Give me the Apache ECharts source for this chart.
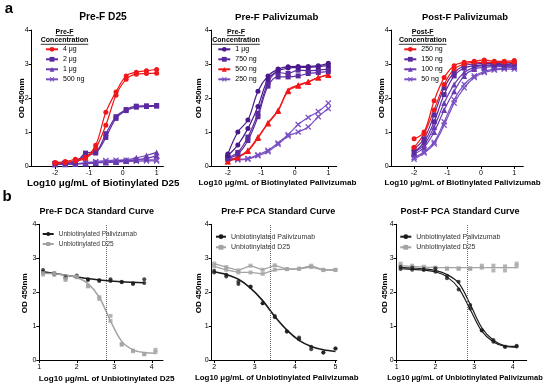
<!DOCTYPE html>
<html><head><meta charset="utf-8">
<script src="https://cdn.jsdelivr.net/npm/echarts@6/dist/echarts.min.js"></script>
<style>html,body{margin:0;padding:0;background:#fff}#c{width:550px;height:385px}</style>
</head><body><div id="c"></div>
<script>
// ---------- DATA ----------
// Panel a: log10 ug/mL of biotinylated antibody
const xA = [-2.0,-1.7,-1.4,-1.1,-0.8,-0.5,-0.2,0.1,0.4,0.7,1.0];
// Pre-F D25
const p1_4ug_a  = [0.10,0.13,0.20,0.26,0.61,1.58,2.18,2.65,2.76,2.80,2.84];
const p1_4ug_b  = [0.08,0.10,0.15,0.22,0.52,1.20,2.08,2.55,2.70,2.72,2.73];
const p1_2ug_a  = [0.08,0.10,0.12,0.38,0.42,0.95,1.45,1.66,1.76,1.77,1.78];
const p1_2ug_b  = [0.07,0.09,0.10,0.32,0.38,0.84,1.40,1.63,1.73,1.75,1.76];
const p1_1ug_a  = [0.06,0.06,0.07,0.08,0.10,0.12,0.15,0.18,0.24,0.31,0.40];
const p1_1ug_b  = [0.05,0.05,0.06,0.07,0.09,0.10,0.12,0.15,0.18,0.23,0.30];
const p1_500_a  = [0.05,0.06,0.07,0.10,0.13,0.16,0.17,0.17,0.18,0.18,0.18];
const p1_500_b  = [0.04,0.05,0.06,0.08,0.10,0.12,0.12,0.13,0.14,0.15,0.15];
// Pre-F Palivizumab
const p2_1ug_a  = [0.35,1.00,1.35,2.20,2.65,2.85,2.92,2.93,2.93,2.95,3.02];
const p2_1ug_b  = [0.30,0.62,1.10,1.75,2.55,2.80,2.88,2.90,2.90,2.92,2.95];
const p2_750_a  = [0.25,0.40,0.85,1.55,2.45,2.75,2.72,2.82,2.80,2.82,2.85];
const p2_750_b  = [0.22,0.35,0.75,1.45,2.35,2.62,2.62,2.65,2.72,2.75,2.78];
const p2_500_a  = [0.14,0.27,0.46,0.85,1.27,1.64,2.23,2.38,2.48,2.60,2.70];
const p2_500_b  = [0.13,0.25,0.44,0.82,1.25,1.62,2.20,2.36,2.47,2.60,2.68];
const p2_250_a  = [0.25,0.20,0.22,0.33,0.46,0.68,0.92,1.22,1.43,1.60,1.85];
const p2_250_b  = [0.20,0.18,0.20,0.30,0.42,0.64,0.88,1.00,1.15,1.45,1.69];
// Post-F Palivizumab
const p3_250_a  = [0.80,1.00,1.92,2.60,2.95,3.05,3.08,3.12,3.08,3.08,3.10];
const p3_250_b  = [0.55,0.95,1.65,2.40,2.85,3.00,3.05,3.05,3.05,3.05,3.05];
const p3_150_a  = [0.50,0.80,1.50,2.30,2.75,2.95,3.00,3.02,3.02,3.00,3.02];
const p3_150_b  = [0.40,0.70,1.30,2.10,2.65,2.88,2.95,2.97,2.98,2.98,3.00];
const p3_100_a  = [0.40,0.62,1.15,1.85,2.40,2.75,2.90,2.95,2.95,2.95,2.95];
const p3_100_b  = [0.35,0.55,1.00,1.65,2.20,2.65,2.85,2.90,2.92,2.92,2.92];
const p3_50_a   = [0.25,0.42,0.70,1.30,1.95,2.40,2.65,2.78,2.85,2.88,2.90];
const p3_50_b   = [0.20,0.38,0.65,1.20,1.85,2.30,2.60,2.75,2.82,2.85,2.85];

// Panel b: log10 ug/mL of unbiotinylated antibody
const xDCA     = [1.1,1.4,1.7,2.0,2.3,2.6,2.9,3.2,3.5,3.8,4.1];
const xDCApal  = [1.1,1.4,1.7,2.0,2.3,2.6,2.9,3.2,3.5,3.8];
const xPCA     = [2.0,2.3,2.6,2.9,3.2,3.5,3.8,4.1,4.4,4.7,5.0];
// Pre-F DCA
const p4_pal_fit   = [2.60,2.55,2.50,2.45,2.40,2.36,2.33,2.31,2.29,2.28];
const p4_pal_pts_a = [2.65,2.56,2.44,2.49,2.38,2.36,2.38,2.31,2.24,2.38];
const p4_pal_pts_b = [2.60,2.52,2.42,2.45,2.36,2.33,2.33,2.29,2.26,2.27];
const p4_d25_fit   = [2.56,2.54,2.50,2.43,2.25,1.85,1.15,0.55,0.30,0.22,0.20];
const p4_d25_pts_a = [2.56,2.56,2.36,2.46,2.19,1.85,1.15,0.47,0.28,0.17,0.30];
const p4_d25_pts_b = [2.52,2.52,2.40,2.44,2.17,1.80,1.30,0.45,0.26,0.18,0.23];
// Pre-F PCA
const p5_pal_fit   = [2.60,2.52,2.38,2.12,1.75,1.28,0.88,0.58,0.40,0.30,0.25];
const p5_pal_pts_a = [2.63,2.51,2.31,2.17,1.67,1.30,0.84,0.66,0.39,0.22,0.34];
const p5_pal_pts_b = [2.58,2.46,2.24,2.15,1.67,1.26,0.84,0.61,0.32,0.22,0.34];
const p5_d25_a     = [2.84,2.74,2.64,2.78,2.66,2.79,2.68,2.69,2.78,2.66,2.66];
const p5_d25_b     = [2.76,2.66,2.58,2.58,2.54,2.66,2.68,2.69,2.74,2.65,2.65];
// Post-F PCA
const p6_pal_fit_a = [2.73,2.71,2.69,2.64,2.52,2.27,1.64,0.95,0.58,0.42,0.40];
const p6_pal_fit_b = [2.69,2.67,2.65,2.60,2.45,2.12,1.49,0.85,0.53,0.40,0.38];
const p6_pal_pts_a = [2.74,2.72,2.68,2.70,2.48,2.31,1.62,0.88,0.59,0.39,0.42];
const p6_pal_pts_b = [2.68,2.66,2.65,2.60,2.41,2.08,1.52,0.87,0.54,0.39,0.40];
const p6_d25_fit   = [2.78,2.76,2.74,2.73,2.72,2.72,2.72,2.72,2.72,2.72,2.72];
const p6_d25_pts_a = [2.84,2.78,2.75,2.72,2.70,2.70,2.70,2.78,2.78,2.76,2.84];
const p6_d25_pts_b = [2.78,2.74,2.72,2.70,2.69,2.69,2.69,2.72,2.64,2.64,2.76];

// reference (midpoint) lines
const refLines = [2.78, 3.38, 2.83];

// tick labels
const xTicksA   = [-2,-1,0,1];
const xTicksDCA = [1,2,3,4];
const xTicksPCA = [2,3,4,5];
const yTicks    = [0,1,2,3,4];

// ---------- STYLE ----------
const FF = '"Liberation Sans", Arial, Helvetica, sans-serif';
const RED = '#f01818', PD = '#4a1a8c', PM = '#5b2a9e', PL = '#6a3cb2', PX = '#7a50c2';
const BLK = '#1c1c1c', GRY = '#a4a4a4';
const SYM_X = 'path://M0,1.5L1.5,0L5,3.5L8.5,0L10,1.5L6.5,5L10,8.5L8.5,10L5,6.5L1.5,10L0,8.5L3.5,5Z';

const grids = [
  {left:31.7, top:30, width:131.7, height:136, min:-2.69, max:1.2, ticks:xTicksA},
  {left:211.7, top:30, width:125, height:136, min:-2.48, max:1.25, ticks:xTicksA},
  {left:391.7, top:30, width:131.6, height:136, min:-2.67, max:1.27, ticks:xTicksA},
  {left:39.3, top:224.3, width:123.7, height:135.7, min:1, max:4.3, ticks:xTicksDCA},
  {left:211.7, top:224.3, width:125, height:135.7, min:1.94, max:5.03, ticks:xTicksPCA},
  {left:396.7, top:224.3, width:130, height:135.7, min:1, max:4.36, ticks:xTicksDCA}
];

const pairs = (xs, ys) => ys.map((y, i) => [xs[i], y]);

function rep(gi, name, xs, ys, color, symbol, size) {
  return {type:'line', name, xAxisIndex:gi, yAxisIndex:gi, data:pairs(xs, ys),
    smooth:0.35, symbol, symbolSize:size, showSymbol:true,
    lineStyle:{color, width:1.2}, itemStyle:{color, borderWidth:0}, z:2};
}
function fitLine(gi, name, xs, ys, color, symbol, size, width, smooth) {
  return {type:'line', name, xAxisIndex:gi, yAxisIndex:gi, data:pairs(xs, ys),
    smooth:smooth === undefined ? 0.35 : smooth, symbol, symbolSize:size, showSymbol:false,
    lineStyle:{color, width:width}, itemStyle:{color}, z:2};
}
function pts(gi, name, xs, ys, color, symbol, size) {
  return {type:'scatter', name, xAxisIndex:gi, yAxisIndex:gi, data:pairs(xs, ys),
    symbol, symbolSize:size, itemStyle:{color}, z:3};
}
function refLine(value) {
  return {silent:true, symbol:'none', label:{show:false},
    lineStyle:{type:'dotted', color:'#6a6a6a', width:1}, data:[{xAxis:value}]};
}

const series = [
  // panel 1
  rep(0,'500 ng|1', xA, p1_500_a, PX, SYM_X, 6), rep(0,'500 ng|1', xA, p1_500_b, PX, SYM_X, 6),
  rep(0,'1 μg|1', xA, p1_1ug_a, PL, 'triangle', 6), rep(0,'1 μg|1', xA, p1_1ug_b, PL, 'triangle', 6),
  rep(0,'2 μg|1', xA, p1_2ug_a, PM, 'rect', 5), rep(0,'2 μg|1', xA, p1_2ug_b, PM, 'rect', 5),
  rep(0,'4 μg|1', xA, p1_4ug_a, RED, 'circle', 5), rep(0,'4 μg|1', xA, p1_4ug_b, RED, 'circle', 5),
  // panel 2
  rep(1,'250 ng|2', xA, p2_250_a, PX, SYM_X, 6), rep(1,'250 ng|2', xA, p2_250_b, PX, SYM_X, 6),
  rep(1,'500 ng|2', xA, p2_500_a, RED, 'triangle', 6), rep(1,'500 ng|2', xA, p2_500_b, RED, 'triangle', 6),
  rep(1,'750 ng|2', xA, p2_750_a, PM, 'rect', 5), rep(1,'750 ng|2', xA, p2_750_b, PM, 'rect', 5),
  rep(1,'1 μg|2', xA, p2_1ug_a, PD, 'circle', 5), rep(1,'1 μg|2', xA, p2_1ug_b, PD, 'circle', 5),
  // panel 3
  rep(2,'50 ng|3', xA, p3_50_a, PX, SYM_X, 6), rep(2,'50 ng|3', xA, p3_50_b, PX, SYM_X, 6),
  rep(2,'100 ng|3', xA, p3_100_a, PL, 'triangle', 6), rep(2,'100 ng|3', xA, p3_100_b, PL, 'triangle', 6),
  rep(2,'150 ng|3', xA, p3_150_a, PM, 'rect', 5), rep(2,'150 ng|3', xA, p3_150_b, PM, 'rect', 5),
  rep(2,'250 ng|3', xA, p3_250_a, RED, 'circle', 5), rep(2,'250 ng|3', xA, p3_250_b, RED, 'circle', 5),
  // panel 4
  Object.assign(fitLine(3,'Unbiotinylated Palivizumab|4', xDCApal, p4_pal_fit, BLK, 'circle', 4, 1.5), {markLine:refLine(refLines[0])}),
  fitLine(3,'Unbiotinylated D25|4', xDCA, p4_d25_fit, GRY, 'rect', 4, 1.5),
  pts(3,'Unbiotinylated Palivizumab|4', xDCApal, p4_pal_pts_a, BLK, 'circle', 4),
  pts(3,'Unbiotinylated Palivizumab|4', xDCApal, p4_pal_pts_b, BLK, 'circle', 4),
  pts(3,'Unbiotinylated D25|4', xDCA, p4_d25_pts_a, GRY, 'rect', 4),
  pts(3,'Unbiotinylated D25|4', xDCA, p4_d25_pts_b, GRY, 'rect', 4),
  // panel 5
  Object.assign(fitLine(4,'Unbiotinylated Palivizumab|5', xPCA, p5_pal_fit, BLK, 'circle', 4, 1.6), {markLine:refLine(refLines[1])}),
  fitLine(4,'Unbiotinylated D25|5', xPCA, p5_d25_a, GRY, 'rect', 4, 1.3, false),
  fitLine(4,'Unbiotinylated D25|5', xPCA, p5_d25_b, GRY, 'rect', 4, 1.3, false),
  pts(4,'Unbiotinylated D25|5', xPCA, p5_d25_a, GRY, 'rect', 4),
  pts(4,'Unbiotinylated D25|5', xPCA, p5_d25_b, GRY, 'rect', 4),
  pts(4,'Unbiotinylated Palivizumab|5', xPCA, p5_pal_pts_a, BLK, 'circle', 4),
  pts(4,'Unbiotinylated Palivizumab|5', xPCA, p5_pal_pts_b, BLK, 'circle', 4),
  // panel 6
  Object.assign(fitLine(5,'Unbiotinylated Palivizumab|6', xDCA, p6_pal_fit_a, BLK, 'circle', 4, 1.2), {markLine:refLine(refLines[2])}),
  fitLine(5,'Unbiotinylated Palivizumab|6', xDCA, p6_pal_fit_b, BLK, 'circle', 4, 1.2),
  fitLine(5,'Unbiotinylated D25|6', xDCA, p6_d25_fit, GRY, 'rect', 4, 1.3),
  pts(5,'Unbiotinylated D25|6', xDCA, p6_d25_pts_a, GRY, 'rect', 4),
  pts(5,'Unbiotinylated D25|6', xDCA, p6_d25_pts_b, GRY, 'rect', 4),
  pts(5,'Unbiotinylated Palivizumab|6', xDCA, p6_pal_pts_a, BLK, 'circle', 4),
  pts(5,'Unbiotinylated Palivizumab|6', xDCA, p6_pal_pts_b, BLK, 'circle', 4)
];

const stripName = n => n.split('|')[0];
function legend(left, top, names, opts) {
  return Object.assign({left, top, orient:'vertical', padding:0, selectedMode:false,
    itemWidth:12, itemHeight:6, itemGap:2, data:names, formatter:stripName,
    textStyle:{fontSize:7, lineHeight:8, color:'#000', fontFamily:FF}}, opts || {});
}
const legends = [
  legend(45, 45.3, ['4 μg|1','2 μg|1','1 μg|1','500 ng|1']),
  legend(217.3, 45.3, ['1 μg|2','750 ng|2','500 ng|2','250 ng|2']),
  legend(403.3, 45.3, ['250 ng|3','150 ng|3','100 ng|3','50 ng|3']),
  legend(41.7, 230.5, ['Unbiotinylated Palivizumab|4','Unbiotinylated D25|4'],
    {itemWidth:11, itemHeight:5, itemGap:3, textStyle:{fontSize:6.5, lineHeight:7, color:'#333', fontFamily:FF}}),
  legend(215, 232.7, ['Unbiotinylated Palivizumab|5','Unbiotinylated D25|5'],
    {itemWidth:10, itemGap:2.6, textStyle:{fontSize:7, lineHeight:8, color:'#333', fontFamily:FF}}),
  legend(399.3, 232.7, ['Unbiotinylated Palivizumab|6','Unbiotinylated D25|6'],
    {itemWidth:11, itemGap:2.6, textStyle:{fontSize:7, lineHeight:8, color:'#333', fontFamily:FF}})
];

const axisCommon = {
  axisLine:{onZero:false, lineStyle:{color:'#000', width:1}},
  splitLine:{show:false}
};
const xAxes = grids.map((g, i) => Object.assign({type:'value', gridIndex:i, min:g.min, max:g.max,
  axisTick:{customValues:g.ticks, length:3, lineStyle:{color:'#000'}},
  axisLabel:{customValues:g.ticks, fontSize:7, color:'#000', margin:4, fontFamily:FF}}, axisCommon));
const yAxes = grids.map((g, i) => Object.assign({type:'value', gridIndex:i, min:0, max:4, interval:1,
  axisTick:{length:3, lineStyle:{color:'#000'}},
  axisLabel:{fontSize:7, color:'#000', margin:3, fontFamily:FF}}, axisCommon));

function txt(text, x, y, size, bold, rot, color) {
  return {type:'text', x, y, rotation: rot ? Math.PI/2 : 0, silent:true,
    style:{text, fill:color || '#000', font:(bold ? 'bold ' : '') + size + 'px ' + FF,
      textAlign:'center', textVerticalAlign:'middle', align:'center', verticalAlign:'middle'}};
}
function uline(x1, x2, y) {
  return {type:'line', silent:true, shape:{x1, y1:y, x2, y2:y}, style:{stroke:'#000', lineWidth:0.8}};
}

const graphics = [
  txt('a', 9, 9, 15, true), txt('b', 7, 197, 15, true),
  txt('Pre-F D25', 103, 17, 10.2, true),
  txt('Pre-F Palivizumab', 276.7, 17, 9.7, true),
  txt('Post-F Palivizumab', 465, 17, 9.4, true),
  txt('Pre-F DCA Standard Curve', 96.7, 211.7, 9, true),
  txt('Pre-F PCA Standard Curve', 278.3, 211.7, 9, true),
  txt('Post-F PCA Standard Curve', 460, 211.7, 9, true),
  txt('Log10 μg/mL of Biotinylated D25', 103.3, 183, 9.8, true),
  txt('Log10 μg/mL of Biotinylated Palivizumab', 277.5, 183, 8.1, true),
  txt('Log10 μg/mL of Biotinylated Palivizumab', 462.5, 183, 8, true),
  txt('Log10 μg/mL of Unbiotinylated D25', 106.7, 378.3, 8.1, true),
  txt('Log10 μg/mL of Unbiotinylated Palivizumab', 276.7, 378.3, 7.9, true),
  txt('Log10 μg/mL of Unbiotinylated Palivizumab', 465, 378.3, 7.5, true),
  txt('OD 450nm', 21.7, 98.3, 8.1, true, true),
  txt('OD 450nm', 198.3, 98.3, 8.1, true, true),
  txt('OD 450nm', 381.7, 98.3, 8.1, true, true),
  txt('OD 450nm', 25, 293.3, 8.1, true, true),
  txt('OD 450nm', 198.3, 293.3, 8.1, true, true),
  txt('OD 450nm', 385, 293.3, 8.1, true, true),
  // legend headings
  txt('Pre-F', 64.5, 31.7, 7, true), txt('Concentration', 64.5, 40.3, 7, true),
  uline(55.5, 73.5, 35.6), uline(40.7, 88.3, 44.3),
  txt('Pre-F', 236, 31.7, 7, true), txt('Concentration', 236, 40.3, 7, true),
  uline(227, 245, 35.6), uline(212.2, 259.8, 44.3),
  txt('Post-F', 422.7, 31.7, 7, true), txt('Concentration', 422.7, 40.3, 7, true),
  uline(411.8, 433.6, 35.6), uline(398.9, 446.5, 44.3)
];

const chart = echarts.init(document.getElementById('c'), null, {renderer:'canvas'});
chart.setOption({
  animation:false,
  backgroundColor:'#fff',
  grid: grids.map(g => ({left:g.left, top:g.top, width:g.width, height:g.height, containLabel:false})),
  xAxis: xAxes,
  yAxis: yAxes,
  legend: legends,
  series,
  graphic: graphics
});
</script></body></html>
